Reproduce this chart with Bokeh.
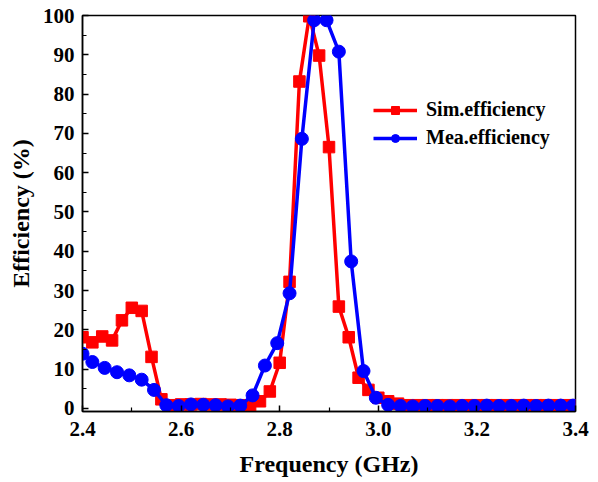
from bokeh.plotting import figure
from bokeh.models import (Range1d, FixedTicker, PrintfTickFormatter,
                          Legend, LegendItem, ColumnDataSource)
from bokeh.embed import file_html
from bokeh.resources import INLINE

# Simulated efficiency (step 0.02 GHz)
sim_freq = [round(2.40 + 0.02 * i, 3) for i in range(51)]
sim_eff = [18.1, 16.8, 18.3, 17.3, 22.4, 25.6, 24.8, 13.1, 2.3, 0.8,
           1.0, 1.0, 1.1, 1.0, 1.0, 0.9, 0.8, 0.6, 1.8, 4.3,
           11.6, 32.2, 83.2, 99.8, 89.8, 66.5, 25.9, 18.1, 7.8, 4.7,
           2.7, 1.8, 1.2, 0.8, 0.8, 0.8, 0.8, 0.8, 0.8, 0.8,
           0.8, 0.8, 0.8, 0.8, 0.8, 0.8, 0.8, 0.8, 0.8, 0.8, 0.8]

# Measured efficiency
mea_freq = [2.40, 2.42, 2.445, 2.47, 2.495, 2.52, 2.545, 2.57, 2.595, 2.62,
            2.645, 2.67, 2.695, 2.72, 2.745, 2.77, 2.795, 2.82, 2.845, 2.87,
            2.895, 2.92, 2.945, 2.97, 2.995, 3.02, 3.045, 3.07, 3.095, 3.12,
            3.145, 3.17, 3.195, 3.22, 3.245, 3.27, 3.295, 3.32, 3.345, 3.37, 3.395]
mea_eff = [13.9, 11.8, 10.3, 9.2, 8.4, 7.3, 4.7, 0.8, 0.6, 1.0,
           0.9, 0.8, 0.5, 0.7, 3.3, 10.9, 16.6, 29.3, 68.6, 98.8,
           98.8, 90.8, 37.4, 9.5, 2.7, 0.9, 0.6, 0.5, 0.6, 0.6,
           0.5, 0.6, 0.6, 0.7, 0.6, 0.6, 0.7, 0.6, 0.7, 0.7, 0.7]

x_ticks = [2.4, 2.6, 2.8, 3.0, 3.2, 3.4]
x_minor = [2.5, 2.7, 2.9, 3.1, 3.3]
y_ticks = [0, 10, 20, 30, 40, 50, 60, 70, 80, 90, 100]
y_minor = [5, 15, 25, 35, 45, 55, 65, 75, 85, 95]

x_label = "Frequency (GHz)"
y_label = "Efficiency (%)"
series_names = ["Sim.efficiency", "Mea.efficiency"]

FONT = "Liberation Serif"

p = figure(width=598, height=482, output_backend="svg", toolbar_location=None,
           x_range=Range1d(2.4, 3.4), y_range=Range1d(-0.8, 100))
p.min_border_left = 82
p.min_border_right = 23
p.min_border_top = 15
p.min_border_bottom = 71
p.background_fill_color = "white"
p.border_fill_color = "white"
p.outline_line_color = "black"
p.outline_line_width = 1.5
p.xgrid.visible = False
p.ygrid.visible = False

p.xaxis.ticker = FixedTicker(ticks=x_ticks, minor_ticks=x_minor)
p.xaxis.formatter = PrintfTickFormatter(format="%.1f")
p.yaxis.ticker = FixedTicker(ticks=y_ticks, minor_ticks=y_minor)

for ax in (p.xaxis[0], p.yaxis[0]):
    ax.axis_line_color = "black"
    ax.axis_line_width = 1.5
    ax.major_tick_in = 6
    ax.major_tick_out = 0
    ax.minor_tick_in = 4
    ax.minor_tick_out = 0
    ax.major_tick_line_width = 1.5
    ax.minor_tick_line_width = 1.2
    ax.major_label_text_font = FONT
    ax.major_label_text_font_style = "bold"
    ax.major_label_text_font_size = "21px"
    ax.major_label_text_color = "black"
    ax.axis_label_text_font = FONT
    ax.axis_label_text_font_style = "bold"
    ax.axis_label_text_font_size = "24px"
    ax.axis_label_text_color = "black"

p.xaxis.axis_label = x_label
p.yaxis.axis_label = y_label
p.xaxis.major_label_standoff = 10
p.xaxis.axis_label_standoff = 12
p.yaxis.major_label_standoff = 8
p.yaxis.axis_label_standoff = 6

src_sim = ColumnDataSource(dict(x=sim_freq, y=sim_eff))
src_mea = ColumnDataSource(dict(x=mea_freq, y=mea_eff))

l1 = p.line("x", "y", source=src_sim, line_color="#ff0000", line_width=3.5)
s1 = p.scatter("x", "y", source=src_sim, marker="square", size=11.5,
               fill_color="#ff0000", line_color="#ff0000")
l2 = p.line("x", "y", source=src_mea, line_color="#0000ff", line_width=3.5)
s2 = p.scatter("x", "y", source=src_mea, marker="circle", size=13,
               fill_color="#0000ff", line_color="#0000ff")

legend = Legend(items=[LegendItem(label=series_names[0], renderers=[l1, s1]),
                       LegendItem(label=series_names[1], renderers=[l2, s2])],
                location=(291, 262))
legend.border_line_color = None
legend.background_fill_alpha = 0
legend.padding = 0
legend.margin = 0
legend.spacing = 5
legend.glyph_width = 44
legend.glyph_height = 20
legend.label_height = 20
legend.label_standoff = 9
legend.label_text_font = FONT
legend.label_text_font_style = "bold"
legend.label_text_font_size = "20px"
legend.label_text_color = "black"
p.add_layout(legend, "center")

open("out.html", "w").write(file_html(p, INLINE))
